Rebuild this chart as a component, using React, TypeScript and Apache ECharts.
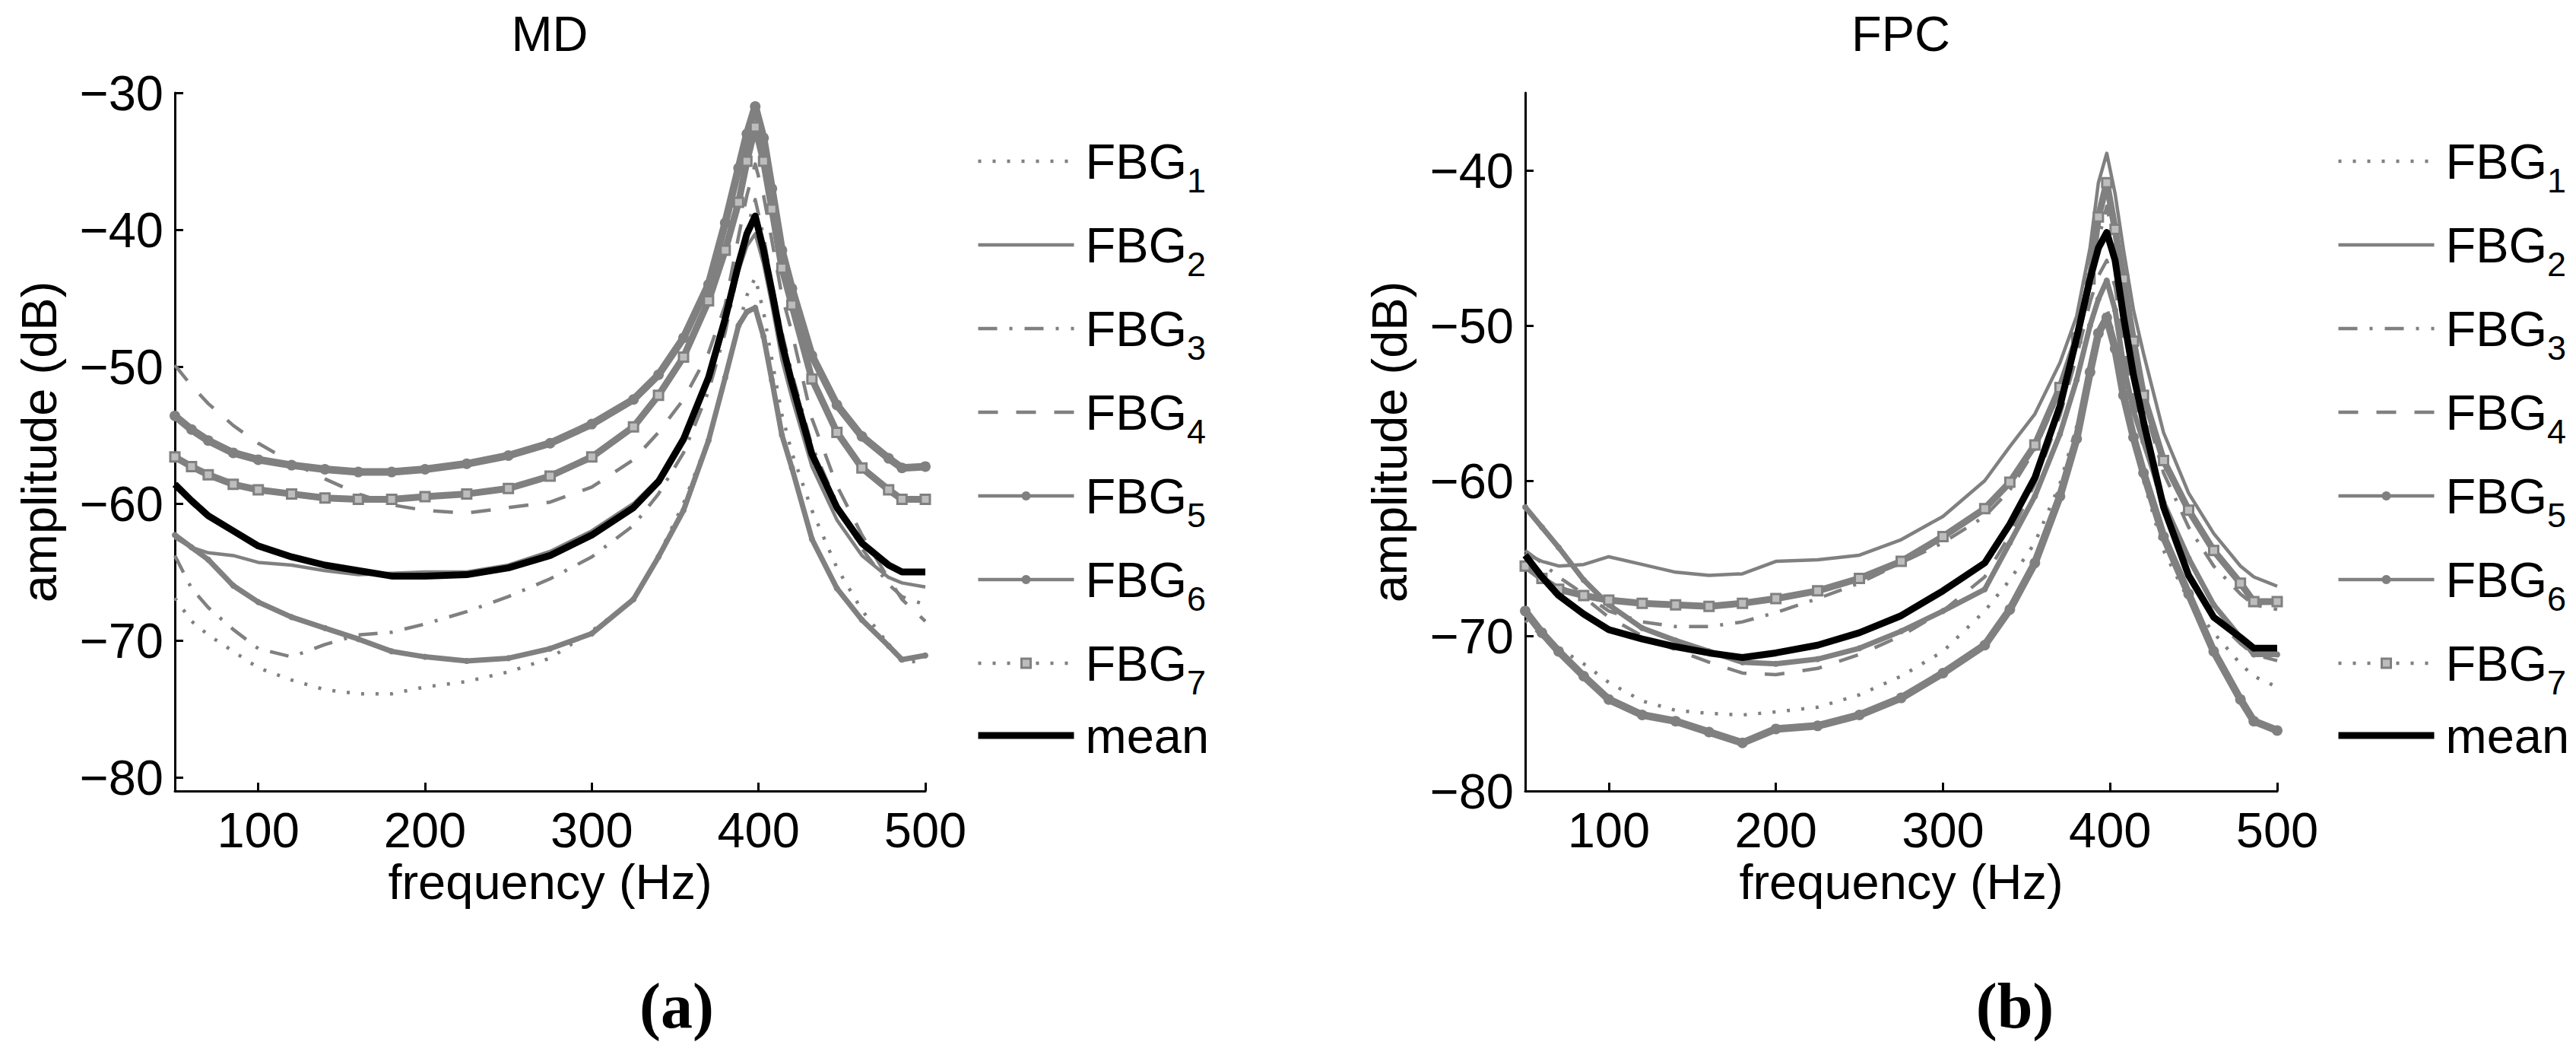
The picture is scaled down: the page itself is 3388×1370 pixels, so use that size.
import React, { useEffect, useRef } from 'react';
import * as echarts from 'echarts';

// ---------------- data ----------------
const FREQ = [50, 60, 70, 85, 100, 120, 140, 160, 180, 200, 225, 250, 275, 300, 325, 340, 355, 370, 380, 388, 393, 398, 403, 408, 414, 420, 432, 447, 462, 478, 486, 500];

const SERIES_NAMES = ['FBG1', 'FBG2', 'FBG3', 'FBG4', 'FBG5', 'FBG6', 'FBG7', 'mean'];
const X_TICKS = [100, 200, 300, 400, 500];
const MD_Y_TICKS = [-80, -70, -60, -50, -40, -30];
const FPC_Y_TICKS = [-80, -70, -60, -50, -40];
const PANEL_TITLES = ['MD', 'FPC'];
const PANEL_LABELS = ['(a)', '(b)'];

// MD panel
const MD_FBG1 = [-66.9, -68.6, -69.6, -70.8, -72.0, -72.9, -73.6, -73.9, -73.9, -73.4, -73.0, -72.3, -71.3, -69.3, -67.1, -63.8, -60.0, -55.3, -51.0, -47.0, -44.8, -43.5, -46.0, -49.5, -53.5, -56.3, -60.5, -64.7, -67.8, -70.3, -71.6, -71.5];
const MD_FBG2 = [-62.5, -63.2, -63.6, -63.8, -64.3, -64.5, -64.9, -65.2, -65.1, -65.0, -65.0, -64.5, -63.5, -62.0, -60.0, -58.2, -55.2, -50.8, -46.8, -43.0, -41.2, -40.3, -42.5, -45.5, -49.5, -52.3, -57.3, -61.2, -63.8, -65.4, -65.8, -66.1];
const MD_FBG3 = [-63.8, -66.2, -67.6, -69.2, -70.6, -71.2, -70.3, -69.6, -69.4, -68.8, -67.9, -66.8, -65.5, -63.9, -61.6, -59.3, -56.3, -51.8, -47.5, -42.8, -40.0, -37.8, -40.5, -44.0, -47.5, -50.5, -55.8, -60.0, -63.3, -65.9, -66.8, -67.4];
const MD_FBG4 = [-49.9, -51.4, -52.7, -54.3, -55.6, -57.0, -58.2, -59.3, -60.1, -60.5, -60.7, -60.3, -59.9, -58.8, -56.8, -54.8, -52.4, -49.0, -45.5, -40.5, -37.5, -35.2, -37.5, -40.8, -44.8, -47.5, -53.8, -58.7, -62.3, -65.5, -67.0, -68.6];
const MD_FBG5 = [-62.3, -63.2, -64.1, -66.0, -67.2, -68.3, -69.1, -69.9, -70.8, -71.2, -71.5, -71.3, -70.6, -69.5, -67.0, -63.9, -60.5, -55.4, -50.8, -47.0, -46.0, -45.7, -47.8, -51.0, -55.0, -57.4, -62.6, -66.2, -68.5, -70.4, -71.4, -71.1];
const MD_FBG6 = [-53.6, -54.6, -55.4, -56.3, -56.8, -57.2, -57.5, -57.7, -57.7, -57.5, -57.1, -56.5, -55.6, -54.2, -52.4, -50.6, -47.9, -44.0, -39.5, -35.5, -33.0, -31.0, -33.3, -37.0, -41.5, -44.3, -49.2, -52.8, -55.1, -56.7, -57.4, -57.3];
const MD_FBG7 = [-56.6, -57.3, -57.9, -58.6, -59.0, -59.3, -59.6, -59.7, -59.7, -59.5, -59.3, -58.9, -58.0, -56.6, -54.4, -52.1, -49.3, -45.2, -41.5, -38.0, -35.0, -32.5, -35.0, -38.5, -42.8, -45.5, -50.9, -54.8, -57.4, -59.0, -59.7, -59.7];
const MD_MEAN = [-58.6, -59.8, -60.9, -62.0, -63.1, -63.9, -64.5, -64.9, -65.3, -65.3, -65.2, -64.7, -63.8, -62.3, -60.3, -58.4, -55.3, -50.8, -46.5, -42.5, -40.3, -39.0, -41.5, -44.5, -48.3, -51.2, -56.4, -60.3, -62.9, -64.5, -65.0, -65.0];

// FPC panel
const FPC_FBG1 = [-69.0, -70.0, -70.8, -71.8, -73.0, -74.2, -74.8, -75.0, -75.1, -74.9, -74.6, -73.8, -72.6, -71.0, -68.4, -66.4, -64.0, -60.2, -56.5, -53.0, -50.8, -48.8, -51.0, -54.0, -57.5, -60.0, -64.5, -67.7, -69.8, -71.8, -72.6, -73.3];
const FPC_FBG2 = [-64.7, -65.2, -65.5, -65.4, -64.9, -65.4, -65.9, -66.1, -66.0, -65.2, -65.1, -64.8, -63.8, -62.3, -60.0, -57.8, -55.7, -52.4, -49.4, -45.0, -40.8, -38.9, -41.5, -45.1, -49.0, -51.8, -56.9, -60.8, -63.4, -65.5, -66.2, -66.8];
const FPC_FBG3 = [-64.5, -65.3, -66.2, -67.3, -68.4, -69.1, -69.4, -69.4, -69.1, -68.5, -67.6, -66.6, -65.3, -64.0, -62.3, -60.6, -58.0, -54.3, -51.0, -47.5, -44.5, -42.3, -45.0, -48.5, -52.5, -55.0, -59.5, -63.0, -65.5, -67.3, -68.0, -68.3];
const FPC_FBG4 = [-65.5, -66.2, -66.8, -67.5, -68.8, -70.0, -70.9, -71.7, -72.4, -72.5, -72.1, -71.2, -70.0, -68.4, -66.2, -63.5, -60.2, -55.8, -52.0, -48.5, -46.8, -45.8, -47.5, -51.0, -54.8, -57.2, -62.0, -66.0, -68.8, -70.5, -71.2, -71.6];
const FPC_FBG5 = [-61.7, -63.0, -64.3, -66.4, -68.0, -69.5, -70.3, -71.0, -71.7, -71.8, -71.5, -70.8, -69.7, -68.4, -67.0, -64.0, -61.0, -57.0, -53.5, -50.0, -48.3, -47.1, -49.0, -52.5, -55.5, -57.5, -61.4, -65.0, -68.0, -70.1, -71.2, -71.2];
const FPC_FBG6 = [-68.4, -69.8, -71.0, -72.6, -74.1, -75.1, -75.5, -76.2, -76.9, -76.0, -75.8, -75.1, -74.0, -72.4, -70.6, -68.3, -65.3, -61.0, -57.3, -53.0, -50.5, -49.5, -51.5, -54.5, -57.2, -59.5, -63.6, -67.3, -71.0, -74.1, -75.5, -76.1];
const FPC_FBG7 = [-65.5, -66.3, -67.0, -67.4, -67.7, -67.9, -68.0, -68.1, -67.9, -67.6, -67.1, -66.3, -65.2, -63.6, -61.8, -60.1, -57.7, -54.0, -50.8, -47.0, -43.0, -40.8, -43.8, -47.0, -51.0, -54.5, -58.7, -61.9, -64.5, -66.6, -67.8, -67.8];
const FPC_MEAN = [-64.8, -66.2, -67.4, -68.6, -69.6, -70.2, -70.7, -71.1, -71.4, -71.1, -70.6, -69.8, -68.7, -67.1, -65.3, -62.8, -59.8, -55.2, -50.8, -47.0, -45.0, -44.0, -45.8, -49.4, -53.2, -56.2, -61.7, -66.1, -68.8, -70.1, -70.8, -70.8];

const MD_VALUES = [MD_FBG1, MD_FBG2, MD_FBG3, MD_FBG4, MD_FBG5, MD_FBG6, MD_FBG7, MD_MEAN];
const FPC_VALUES = [FPC_FBG1, FPC_FBG2, FPC_FBG3, FPC_FBG4, FPC_FBG5, FPC_FBG6, FPC_FBG7, FPC_MEAN];

// ---------------- styles ----------------
const GRAY = '#808080';
const FONT = "'Liberation Sans', Arial, Helvetica, sans-serif";
const SERIF = "'Liberation Serif', 'Times New Roman', Times, serif";
const FS = 65;

type St = {
  color: string; width: number; type: any; symbol?: string; size?: number; item?: any;
  legendWidth: number; legendType: any; legendItem?: any;
};
const STYLES: Record<string, St> = {
  FBG1: { color: GRAY, width: 4.5, type: [4, 15], legendWidth: 4.5, legendType: [4, 15] },
  FBG2: { color: GRAY, width: 4.5, type: 'solid', legendWidth: 4.5, legendType: 'solid' },
  FBG3: { color: GRAY, width: 4.5, type: [25, 16, 4, 16], legendWidth: 4.5, legendType: [25, 16, 4, 16] },
  FBG4: { color: GRAY, width: 4.5, type: [26, 24], legendWidth: 4.5, legendType: [26, 24] },
  FBG5: { color: GRAY, width: 7, type: 'solid', symbol: 'circle', size: 8, item: { color: GRAY }, legendWidth: 4.5, legendType: 'solid', legendItem: { color: GRAY } },
  FBG6: { color: GRAY, width: 10, type: 'solid', symbol: 'circle', size: 14, item: { color: GRAY }, legendWidth: 4.5, legendType: 'solid', legendItem: { color: GRAY } },
  FBG7: { color: GRAY, width: 9, type: 'solid', symbol: 'rect', size: 12, item: { color: '#bdbdbd', borderColor: GRAY, borderWidth: 3 }, legendWidth: 4.5, legendType: [4, 15], legendItem: { color: '#bdbdbd', borderColor: GRAY, borderWidth: 3 } },
  mean: { color: '#000000', width: 9, type: 'solid', legendWidth: 9, legendType: 'solid' },
};

const GRIDS = [
  { left: 230, top: 122, width: 987, height: 918 },
  { left: 2006, top: 122, width: 989, height: 918 },
];
const Y_RANGES = [
  { min: -81, max: -30, ticks: MD_Y_TICKS },
  { min: -80, max: -35, ticks: FPC_Y_TICKS },
];
const LEGEND_LEFT = [1282, 3071];
const TITLE_X = [723, 2500];
const LABEL_X = [890, 2650];

const minusFmt = (v: number) => String(v).replace('-', '\u2212');

function buildOption() {
  const xAxis = GRIDS.map((_, i) => ({
    type: 'value', gridIndex: i, min: 50, max: 500,
    name: 'frequency (Hz)', nameLocation: 'middle', nameGap: 87, nameMoveOverlap: false,
    nameTextStyle: { fontSize: FS, fontFamily: FONT, color: '#000' },
    axisLine: { show: true, onZero: false, lineStyle: { color: '#000', width: 3 } },
    axisTick: { show: true, inside: true, length: 11, lineStyle: { color: '#000', width: 3 }, customValues: X_TICKS },
    axisLabel: { show: true, margin: 19, fontSize: FS, fontFamily: FONT, color: '#000', customValues: X_TICKS, showMinLabel: true, showMaxLabel: true },
    splitLine: { show: false },
  }));
  const yAxis = GRIDS.map((_, i) => ({
    type: 'value', gridIndex: i, min: Y_RANGES[i].min, max: Y_RANGES[i].max,
    name: 'amplitude (dB)', nameLocation: 'middle', nameGap: 146, nameRotate: 90, nameMoveOverlap: false,
    nameTextStyle: { fontSize: FS, fontFamily: FONT, color: '#000' },
    axisLine: { show: true, onZero: false, lineStyle: { color: '#000', width: 3 } },
    axisTick: { show: true, inside: true, length: 11, lineStyle: { color: '#000', width: 3 }, customValues: Y_RANGES[i].ticks },
    axisLabel: { show: true, margin: 15, fontSize: FS, fontFamily: FONT, color: '#000', customValues: Y_RANGES[i].ticks, formatter: minusFmt, showMinLabel: true, showMaxLabel: true },
    splitLine: { show: false },
  }));

  const series: any[] = [];
  [MD_VALUES, FPC_VALUES].forEach((panel, p) => {
    panel.forEach((vals, k) => {
      const name = SERIES_NAMES[k];
      const st = STYLES[name];
      series.push({
        type: 'line', name, xAxisIndex: p, yAxisIndex: p,
        data: FREQ.map((f, i) => [f, vals[i]]),
        symbol: st.symbol || 'none', symbolSize: st.size || 0,
        showSymbol: !!st.symbol, showAllSymbol: true,
        lineStyle: { color: st.color, width: st.width, type: st.type, cap: 'butt', join: 'round' },
        itemStyle: st.item || { color: st.color },
        silent: true, z: name === 'mean' ? 4 : 3,
        emphasis: { disabled: true },
      });
    });
  });

  const legendData = SERIES_NAMES.map((name) => {
    const st = STYLES[name];
    return {
      name,
      lineStyle: { color: st.color, width: st.legendWidth, type: st.legendType, cap: 'butt' },
      itemStyle: st.legendItem ? st.legendItem : { opacity: 0 },
    };
  });
  const legendFmt = (name: string) => (name === 'mean' ? '{n|mean}' : `{n|FBG}{s|${name.slice(3)}}`);
  const legend = LEGEND_LEFT.map((left) => ({
    show: true, orient: 'vertical', left, top: 164.5, padding: 0,
    itemWidth: 126, itemHeight: 15, itemGap: 15, selectedMode: false,
    data: legendData, formatter: legendFmt,
    textStyle: {
      color: '#000', fontFamily: FONT, fontSize: FS,
      rich: {
        n: { fontSize: FS, fontFamily: FONT, color: '#000', lineHeight: 65, verticalAlign: 'top', padding: [0, 0, 0, 10] },
        s: { fontSize: 45, fontFamily: FONT, color: '#000', lineHeight: 45, padding: [50, 0, 0, 0] },
      },
    },
  }));

  const title = PANEL_TITLES.map((t, i) => ({
    text: t, left: TITLE_X[i], top: 12, padding: 0, textAlign: 'center', textVerticalAlign: 'top',
    textStyle: { fontSize: FS, fontWeight: 'normal', fontFamily: FONT, color: '#000' },
  }));

  const graphic = PANEL_LABELS.map((t, i) => ({
    type: 'text', x: LABEL_X[i], y: 1322, silent: true,
    style: { text: t, fontSize: 84, fontWeight: 'bold', fontFamily: SERIF, fill: '#000', align: 'center', verticalAlign: 'middle' },
  }));

  return {
    animation: false,
    backgroundColor: '#ffffff',
    title, legend, graphic,
    grid: GRIDS.map((g) => ({ ...g, show: false, containLabel: false, outerBoundsMode: 'none' })),
    xAxis, yAxis, series,
    tooltip: { show: false },
  };
}

export default function App() {
  const ref = useRef<HTMLDivElement>(null);
  useEffect(() => {
    if (!ref.current) return;
    const chart = echarts.init(ref.current, undefined, { renderer: 'svg' });
    chart.setOption(buildOption() as any);
    return () => chart.dispose();
  }, []);
  return (
    <div
      ref={ref}
      style={{ position: 'absolute', left: 0, top: 0, width: 3388, height: 1370, background: '#fff' }}
    />
  );
}
